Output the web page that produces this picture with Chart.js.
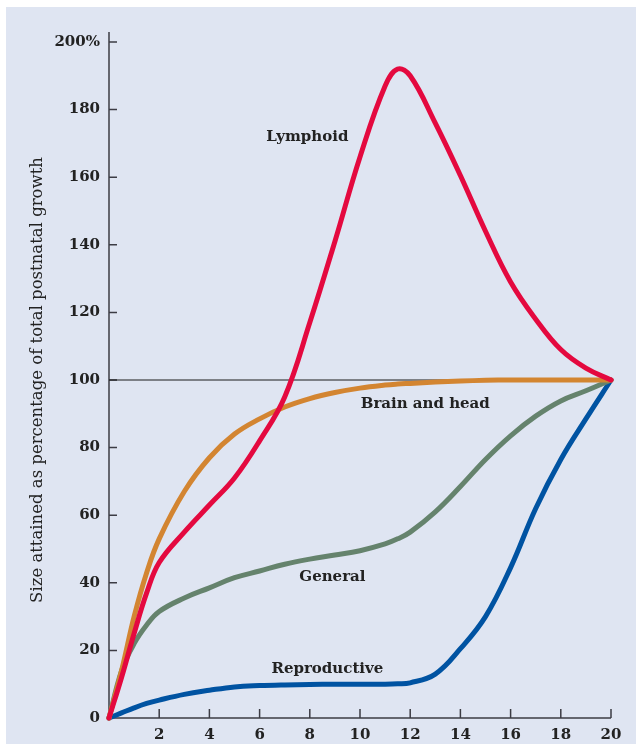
<!DOCTYPE html>
<html>
<head>
<meta charset="utf-8">
<script src="https://cdn.jsdelivr.net/npm/chart.js@4.4.1/dist/chart.umd.min.js"></script>
<style>
    html, body { margin: 0; padding: 0; background: #ffffff; }
    #wrap {
        position: absolute;
        left: 6px;
        top: 7px;
        width: 630px;
        height: 737px;
        background: #dfe5f2;
    }
</style>
</head>
<body>
<div id="wrap"><canvas id="growthChart"></canvas></div>
<script>
const ages = [0, 0.5, 1, 1.5, 2, 3, 4, 5, 6, 7, 8, 9, 10, 11, 11.5, 12, 13, 14, 15, 16, 17, 18, 19, 20];

const lymphoid     = [0, 12, 25, 37, 46, 55, 63, 71, 82, 95, 117, 141, 166, 187, 192, 190, 176, 160.5, 144, 129, 118, 109, 103.5, 100];
const brainHead    = [0, 14, 30, 43, 53, 67, 77, 84, 88.5, 92, 94.5, 96.3, 97.6, 98.5, 98.8, 99, 99.4, 99.7, 99.9, 100, 100, 100, 100, 100];
const general      = [0, 14, 22, 27.5, 31.5, 35.5, 38.5, 41.5, 43.5, 45.5, 47, 48.2, 49.5, 51.5, 53, 55, 61, 68.5, 76.5, 83.5, 89.3, 93.8, 96.8, 100];
const reproductive = [0, 1.5, 3, 4.3, 5.3, 7, 8.2, 9.2, 9.6, 9.8, 9.9, 10, 10, 10, 10.1, 10.4, 13, 20.5, 30, 44.5, 62, 76.5, 88.5, 100];

const xTicks = [2, 4, 6, 8, 10, 12, 14, 16, 18, 20];
const yTicks = [0, 20, 40, 60, 80, 100, 120, 140, 160, 180, 200];

const curveLabels = [
    { text: 'Lymphoid', x: 7.9, y: 172 },
    { text: 'Brain and head', x: 12.6, y: 93 },
    { text: 'General', x: 8.9, y: 41.7 },
    { text: 'Reproductive', x: 8.7, y: 14.5 }
];

Chart.defaults.font.family = "'DejaVu Serif', serif";
Chart.defaults.color = '#222222';

const toPoints = (values) => ages.map((a, i) => ({ x: a, y: values[i] }));

const curve = (label, values, color) => ({
    label: label,
    data: toPoints(values),
    borderColor: color,
    borderWidth: 5,
    borderCapStyle: 'round',
    pointRadius: 0,
    tension: 0.4,
    clip: 10
});

// axis lines, inward ticks and curve names
const axesPlugin = {
    id: 'axesPlugin',
    beforeDatasetsDraw(chart) {
        const { ctx, scales: { x, y } } = chart;
        const x0 = x.getPixelForValue(0);
        const y0 = y.getPixelForValue(0);
        ctx.save();
        ctx.strokeStyle = '#3c3c44';
        ctx.lineWidth = 1.5;
        ctx.beginPath();
        ctx.moveTo(x0, y0);
        ctx.lineTo(x0, y.getPixelForValue(200) - 10);
        ctx.moveTo(x0, y0);
        ctx.lineTo(x.getPixelForValue(20), y0);
        yTicks.forEach(v => {
            if (v === 0) return;
            const py = y.getPixelForValue(v);
            ctx.moveTo(x0, py);
            ctx.lineTo(x0 + 8, py);
        });
        xTicks.forEach(v => {
            const px = x.getPixelForValue(v);
            ctx.moveTo(px, y0);
            ctx.lineTo(px, y0 - 9);
        });
        ctx.stroke();
        ctx.restore();
    },
    afterDraw(chart) {
        const { ctx, scales: { x, y } } = chart;
        ctx.save();
        ctx.fillStyle = '#222222';
        ctx.font = "bold 15px 'DejaVu Serif'";
        ctx.textAlign = 'center';
        ctx.textBaseline = 'middle';
        curveLabels.forEach(l => {
            ctx.fillText(l.text, x.getPixelForValue(l.x), y.getPixelForValue(l.y));
        });
        ctx.restore();
    }
};

new Chart(document.getElementById('growthChart'), {
    type: 'line',
    data: {
        datasets: [
            curve('Lymphoid', lymphoid, '#e4093f'),
            curve('Brain and head', brainHead, '#d38531'),
            curve('General', general, '#65836d'),
            curve('Reproductive', reproductive, '#0053a2'),
            {
                label: 'ref',
                data: [{ x: 0, y: 100 }, { x: 20, y: 100 }],
                borderColor: '#1a1a1a',
                borderWidth: 1,
                pointRadius: 0
            }
        ]
    },
    options: {
        responsive: true,
        maintainAspectRatio: false,
        animation: false,
        layout: {
            padding: { left: 0, right: 25, top: 35, bottom: 0 }
        },
        plugins: {
            legend: { display: false },
            tooltip: { enabled: false }
        },
        scales: {
            x: {
                type: 'linear',
                min: 0,
                max: 20,
                border: { display: false },
                grid: { display: false, drawTicks: false },
                afterBuildTicks: s => { s.ticks = xTicks.map(v => ({ value: v })); },
                afterFit: s => { s.height = 26; },
                ticks: {
                    padding: 8,
                    maxRotation: 0,
                    font: { size: 15, weight: 'bold' }
                }
            },
            y: {
                min: 0,
                max: 200,
                border: { display: false },
                grid: { display: false, drawTicks: false },
                afterBuildTicks: s => { s.ticks = yTicks.map(v => ({ value: v })); },
                afterFit: s => { s.width = 103; },
                ticks: {
                    padding: 9,
                    font: { size: 15, weight: 'bold' },
                    callback: v => v === 200 ? '200%' : v
                },
                title: {
                    display: true,
                    text: 'Size attained as percentage of total postnatal growth',
                    font: { size: 16.5, weight: 'normal' },
                    padding: { top: 22, bottom: 0 }
                }
            }
        }
    },
    plugins: [axesPlugin]
});
</script>
</body>
</html>
